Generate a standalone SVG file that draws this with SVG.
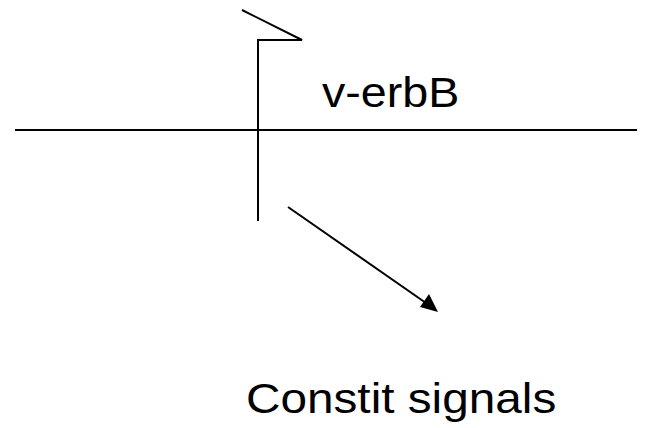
<svg xmlns="http://www.w3.org/2000/svg" width="652" height="428" viewBox="0 0 652 428">
<style>
.ln{stroke:#000;stroke-width:2;fill:none}
.t{font-family:"Liberation Sans",Arial,sans-serif;fill:#000}
</style>
<rect width="652" height="428" fill="#fff"/>
<g id="connectors">
<line class="ln" x1="15" y1="130" x2="637" y2="130"/>
<polyline class="ln" points="258,221 258,40 302,40 242,10"/>
<line class="ln" x1="288" y1="207" x2="426" y2="303"/>
<path d="M438,312 L420,307 L429,294 z" fill="#000"/>
</g>
<g id="label-verbB"><text class="t" font-size="42" transform="translate(322,107) scale(1.11,1)">v-erbB</text></g>
<g id="label-constit"><text class="t" font-size="43" transform="translate(246,413) scale(1.11,1)">Constit signals</text></g>
</svg>
